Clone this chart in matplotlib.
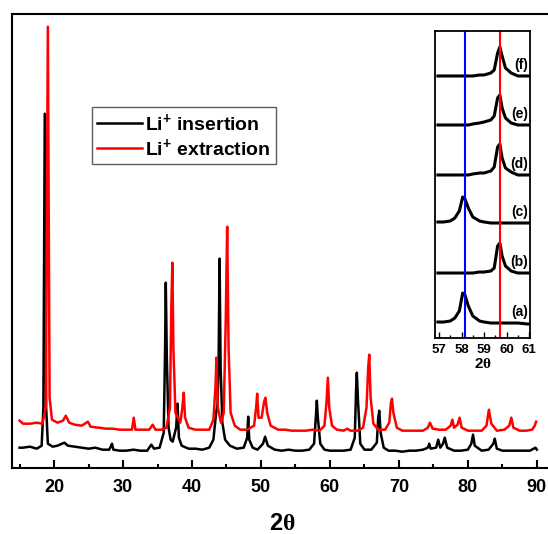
import matplotlib
matplotlib.use('Agg')
import matplotlib.pyplot as plt
from matplotlib.ticker import MultipleLocator

plt.rcParams['font.family'] = ['Liberation Sans', 'DejaVu Sans']
plt.rcParams['font.weight'] = 'bold'
plt.rcParams['mathtext.fontset'] = 'custom'
plt.rcParams['mathtext.rm'] = 'Liberation Sans:bold'
plt.rcParams['mathtext.bf'] = 'Liberation Sans:bold'
plt.rcParams['mathtext.it'] = 'Liberation Sans:bold'
plt.rcParams['mathtext.sf'] = 'Liberation Serif'

# main patterns (2theta, intensity a.u.)
ins_2theta = [15.0, 15.5, 16.5, 17.5, 18.2, 18.45, 18.65, 18.85, 19.1, 19.8, 20.5, 21.5, 22.0, 23.0,
              24.0, 25.0, 26.0, 27.0, 28.0, 28.4, 28.6, 29.5, 30.5, 31.5, 32.5, 33.5, 34.1, 34.5,
              35.3, 35.9, 36.1, 36.2, 36.35, 36.6, 36.9, 37.2, 37.7, 37.9, 38.1, 38.5, 39.5, 40.5,
              41.5, 42.5, 43.1, 43.5, 43.7, 43.85, 44.0, 44.15, 44.4, 44.8, 45.5, 46.5, 47.5, 48.0,
              48.15, 48.3, 48.8, 49.5, 50.3, 50.6, 51.0, 52.0, 53.0, 54.0, 55.0, 56.0, 57.0, 57.7,
              58.0, 58.1, 58.25, 58.6, 59.2, 60.0, 61.0, 62.0, 63.0, 63.6, 63.8, 63.9, 64.05, 64.4,
              65.0, 66.0, 66.8, 67.0, 67.15, 67.35, 67.8, 68.5, 69.5, 70.5, 71.5, 72.5, 73.5, 74.2,
              74.4, 74.6, 75.4, 75.7, 76.0, 76.4, 76.65, 77.0, 78.0, 79.0, 80.0, 80.5, 80.75, 81.0,
              82.0, 83.0, 83.7, 83.9, 84.2, 85.0, 86.0, 87.0, 88.0, 89.0, 89.8, 90.0]
ins_counts = [20, 20, 21, 19, 22, 60, 354, 60, 24, 21, 22, 25, 22, 21,
              20, 19, 20, 18, 18, 24, 18, 17, 17, 18, 17, 17, 23, 19,
              20, 35, 120, 185, 110, 40, 28, 26, 40, 64, 30, 22, 19, 19,
              18, 20, 28, 55, 63, 100, 209, 100, 45, 28, 22, 19, 20, 30,
              51, 28, 20, 18, 24, 31, 22, 18, 17, 18, 17, 17, 18, 24,
              55, 67, 50, 24, 18, 17, 17, 17, 18, 30, 80, 95, 70, 24,
              18, 18, 25, 50, 57, 35, 20, 17, 17, 16, 17, 17, 18, 20,
              24, 19, 20, 28, 20, 24, 30, 20, 17, 17, 18, 24, 33, 22,
              17, 18, 24, 29, 19, 17, 17, 17, 17, 17, 20, 18]

ext_2theta = [15.0, 15.5, 16.5, 17.5, 18.3, 18.8, 19.1, 19.35, 19.7, 20.5, 21.3, 21.7, 22.2, 23.0,
              24.0, 24.9, 25.3, 26.5, 27.5, 28.5, 29.5, 30.5, 31.3, 31.55, 31.8, 32.8, 33.8, 34.3,
              34.7, 35.6, 36.3, 36.8, 37.0, 37.15, 37.3, 37.6, 38.3, 38.6, 38.8, 39.0, 39.5, 40.5,
              41.5, 42.5, 43.1, 43.4, 43.55, 43.75, 44.2, 44.6, 44.9, 45.1, 45.3, 45.6, 46.2, 47.0,
              48.0, 49.0, 49.3, 49.45, 49.65, 50.1, 50.45, 50.65, 50.9, 51.4, 52.5, 53.5, 54.5, 55.5,
              56.5, 57.5, 58.5, 59.2, 59.5, 59.7, 59.9, 60.3, 61.0, 62.0, 62.5, 63.0, 64.0, 64.8,
              65.3, 65.55, 65.7, 65.9, 66.3, 67.0, 68.0, 68.6, 68.85, 69.0, 69.2, 69.7, 70.5, 71.5,
              72.5, 73.5, 74.2, 74.5, 74.9, 75.8, 76.8, 77.5, 77.75, 78.0, 78.5, 78.8, 79.1, 80.0,
              81.0, 82.0, 82.7, 83.05, 83.4, 84.2, 85.3, 86.0, 86.3, 86.6, 87.5, 88.5, 89.3, 89.7,
              89.9]
ext_counts = [47, 44, 44, 45, 44, 60, 441, 70, 48, 45, 47, 52, 45, 43,
              42, 46, 41, 40, 39, 39, 38, 38, 38, 50, 38, 38, 38, 43,
              38, 38, 40, 60, 160, 205, 120, 55, 45, 60, 75, 50, 40, 38,
              38, 38, 48, 80, 110, 60, 45, 55, 150, 241, 120, 55, 42, 38,
              38, 42, 60, 74, 50, 50, 66, 70, 55, 42, 38, 38, 37, 37,
              37, 38, 37, 42, 65, 90, 60, 42, 38, 37, 39, 37, 37, 40,
              60, 100, 113, 70, 44, 38, 38, 45, 65, 69, 55, 40, 37, 37,
              37, 37, 40, 45, 39, 38, 38, 42, 48, 40, 43, 50, 40, 37,
              37, 37, 42, 58, 44, 37, 38, 42, 50, 40, 37, 37, 38, 42,
              46]

# inset patterns, stacked (a)-(f)
inset_2theta = [56.95, 57.2, 57.5, 57.7, 57.9, 58.05, 58.15, 58.3, 58.5, 58.8,
                59.0, 59.3, 59.45, 59.6, 59.7, 59.8, 59.95, 60.2, 60.5, 60.95]
inset_a = [16, 16, 17, 20, 27, 45, 43, 32, 22, 17, 16, 15, 15, 15, 15, 15, 15, 15, 15, 14]
inset_b = [65, 65, 65, 65, 65, 65, 65, 65, 65, 66, 66, 67, 70, 92, 95, 82, 72, 67, 65, 65]
inset_c = [116, 116, 117, 120, 127, 141, 139, 130, 121, 117, 116, 115, 115, 115, 115, 115, 115, 115, 115, 115]
inset_d = [163, 163, 163, 163, 163, 163, 163, 163, 164, 165, 165, 167, 171, 191, 194, 180, 170, 166, 163, 163]
inset_e = [213, 213, 213, 213, 213, 213, 213, 213, 214, 215, 216, 218, 222, 240, 243, 230, 220, 215, 213, 213]
inset_f = [262, 262, 262, 262, 262, 262, 262, 262, 262, 263, 263, 265, 268, 285, 291, 282, 270, 265, 262, 262]
inset_curves = [inset_a, inset_b, inset_c, inset_d, inset_e, inset_f]
inset_labels = ['(a)', '(b)', '(c)', '(d)', '(e)', '(f)']
inset_label_y = [26, 76, 126, 174, 224, 273]
blue_pos = 58.15
red_pos = 59.7

fig = plt.figure(figsize=(5.48, 5.34), dpi=100)
ax = fig.add_axes([0.0219, 0.1242, 0.9854, 0.8496])
ax.plot(ins_2theta, ins_counts, color='black', lw=1.8, label='Li$^{+}$ insertion')
ax.plot(ext_2theta, ext_counts, color='red', lw=1.8, label='Li$^{+}$ extraction')
ax.set_xlim(13.9, 92.2)
ax.set_ylim(0, 453.7)
ax.set_yticks([])
ax.xaxis.set_major_locator(MultipleLocator(10))
ax.xaxis.set_minor_locator(MultipleLocator(5))
ax.tick_params(axis='x', which='major', direction='in', length=6, width=1.5, labelsize=13, pad=8)
ax.tick_params(axis='x', which='minor', direction='in', length=3, width=1.5)
ax.xaxis.set_ticks_position('bottom')
for s in ax.spines.values():
    s.set_linewidth(1.5)
ax.set_xlabel('2$\\mathsf{\\theta}$', fontsize=17, fontweight='bold', labelpad=12)
leg = ax.legend(loc='upper left', bbox_to_anchor=(0.148, 0.795), borderaxespad=0,
                frameon=True, fancybox=False, edgecolor='#333333',
                handlelength=2.3, handletextpad=0.2, labelspacing=0.15,
                borderpad=0.25, prop={'weight': 'bold', 'size': 14})
leg.get_frame().set_linewidth(1.0)

axi = fig.add_axes([0.7938, 0.367, 0.1734, 0.575])
for ys in inset_curves:
    axi.plot(inset_2theta, ys, color='black', lw=2.2)
axi.axvline(blue_pos, color='blue', lw=1.5)
axi.axvline(red_pos, color='red', lw=1.5)
for lab, ly in zip(inset_labels, inset_label_y):
    axi.text(60.95, ly, lab, ha='right', va='center', fontsize=10, fontweight='bold')
axi.set_xlim(56.82, 61.04)
axi.set_ylim(0, 307)
axi.set_yticks([])
axi.xaxis.set_major_locator(MultipleLocator(1))
axi.xaxis.set_minor_locator(MultipleLocator(0.5))
axi.tick_params(axis='x', which='major', direction='in', length=4, width=1.0, labelsize=9.5, pad=4)
axi.tick_params(axis='x', which='minor', direction='in', length=2, width=1.0)
for s in axi.spines.values():
    s.set_linewidth(1.3)
axi.set_xlabel('2$\\mathsf{\\theta}$', fontsize=11, fontweight='bold', labelpad=1)

fig.savefig('out.png', dpi=100)
